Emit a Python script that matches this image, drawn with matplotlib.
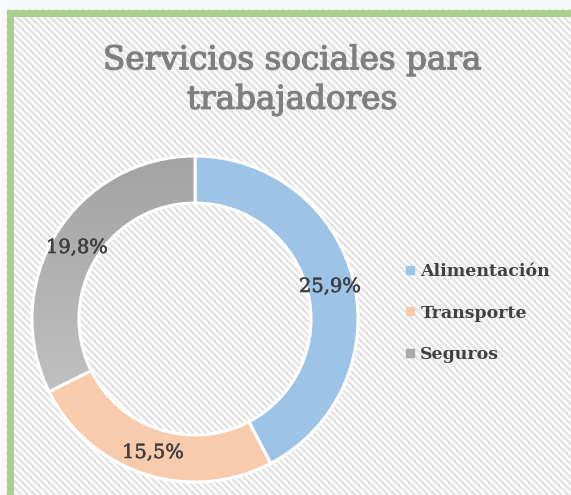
import matplotlib
matplotlib.use("Agg")
import numpy as np
import matplotlib.pyplot as plt
import matplotlib.patheffects as pe
from matplotlib.patches import Rectangle
from matplotlib.lines import Line2D
from matplotlib.colors import LinearSegmentedColormap

categories = ["Alimentación", "Transporte", "Seguros"]
values = [25.9, 15.5, 19.8]
colors = ["#9dc3e6", "#f8cbad", "#a9a9a9"]
title = "Servicios sociales para\ntrabajadores"

W, H = 571, 495
plt.rcParams["hatch.linewidth"] = 1.8
plt.rcParams["hatch.color"] = "#e3e3e3"
fig = plt.figure(figsize=(W / 100, H / 100), dpi=100, facecolor="#f7f9fa")

# background panel with hatch and green border
bg = Rectangle((6 / W, 0), 1, 1 - 9 / H, transform=fig.transFigure,
               facecolor="white", edgecolor="#e3e3e3", hatch="\\" * 5, linewidth=0, zorder=-5)
fig.patches.append(bg)
border = Rectangle((9.5 / W, -0.05), 1.2, 1.05 - 12.5 / H, transform=fig.transFigure,
                   facecolor="none", edgecolor="#a9d18e", linewidth=5, zorder=-4)
fig.patches.append(border)

ax = fig.add_axes([0, 0, 1, 1], zorder=2)
ax.patch.set_alpha(0)

cx, cy, R = 195, H - 319, 163
wedges, _ = ax.pie(values, colors=colors, startangle=90, counterclock=False,
                   center=(cx, cy), radius=R, frame=True,
                   wedgeprops=dict(width=47, edgecolor="white", linewidth=2.2))

# vertical gradient for the grey wedge
gw = wedges[2]
cmap = LinearSegmentedColormap.from_list("g", ["#a3a3a3", "#cbcbcb"])
grad = np.linspace(0, 1, 256).reshape(-1, 1)
im = ax.imshow(grad, cmap=cmap, extent=(cx - R, cx, cy - R, cy + R), origin="upper",
               aspect="auto", zorder=gw.get_zorder() + 0.1)
im.set_clip_path(gw)
gw.set_zorder(gw.get_zorder() + 0.2)
gw.set_facecolor("none")

ax.set_xlim(0, W)
ax.set_ylim(0, H)
ax.set_aspect("equal")
ax.axis("off")

lab_pos = [(330, 287), (153, 453), (77, 248)]
for v, (x, y) in zip(values, lab_pos):
    ax.text(x, H - y, f"{v:.1f}%".replace(".", ","), ha="center", va="center",
            fontsize=14, color="#404040", family="DejaVu Serif", zorder=5,
            path_effects=[pe.withStroke(linewidth=0.4, foreground="#404040")])

fig.text(292 / W, 1 - 80 / H, title, ha="center", va="center", fontsize=23.5,
         color="#7f7f7f", family="DejaVu Serif", linespacing=1.3,
         path_effects=[pe.withStroke(linewidth=0.9, foreground="#7f7f7f")])

handles = [Line2D([], [], marker="s", linestyle="none", markersize=6,
                  markerfacecolor=c, markeredgecolor=c) for c in colors]
leg = fig.legend(handles, categories, loc="center left", bbox_to_anchor=(396 / W, 1 - 313 / H),
                 frameon=False, prop=dict(family="DejaVu Serif", size=12.5, weight="semibold"),
                 labelspacing=1.42, handlelength=0.6, handletextpad=0.3, borderpad=0)
for t in leg.get_texts():
    t.set_color("#404040")

fig.savefig("out.png", dpi=100, facecolor=fig.get_facecolor())
